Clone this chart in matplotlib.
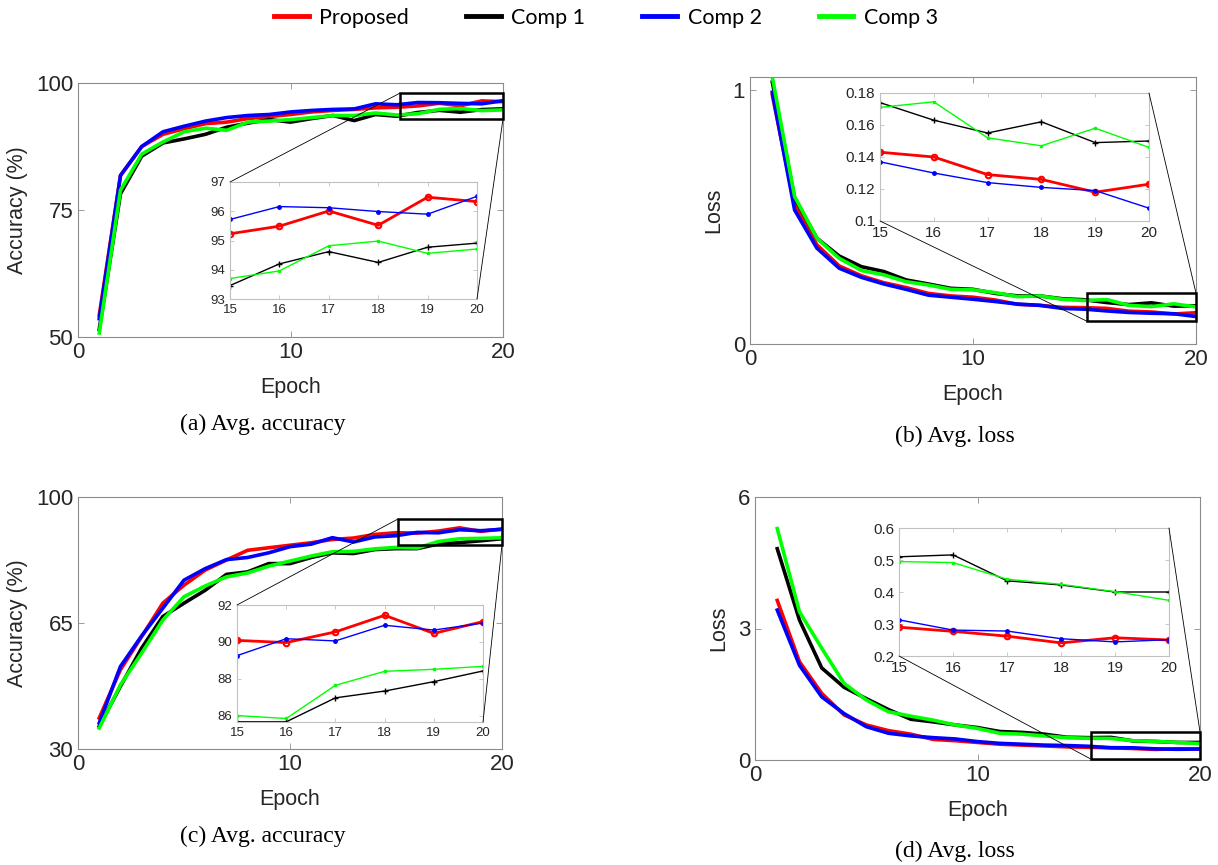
import numpy as np
import matplotlib
matplotlib.use("Agg")
import matplotlib.pyplot as plt
from matplotlib.patches import Rectangle, ConnectionPatch

plt.rcParams['font.family'] = ['Liberation Sans', 'DejaVu Sans']

epochs = list(range(1, 21))
names = ["Proposed", "Comp 1", "Comp 2", "Comp 3"]
colors = ["#ff0000", "#000000", "#0000ff", "#00ff00"]

# (a) avg accuracy
acc_a_prop = [54.3, 81.8, 87.5, 89.9, 91.0, 92.0, 92.3, 93.0, 93.4, 93.8,
              94.3, 94.6, 94.8, 95.1, 95.23, 95.49, 96.01, 95.52, 96.48, 96.33]
acc_a_c1 = [51.5, 78.2, 85.6, 88.2, 89.0, 89.9, 91.3, 92.1, 92.8, 92.3,
            93.0, 93.6, 92.6, 93.8, 93.46, 94.20, 94.62, 94.25, 94.77, 94.91]
acc_a_c2 = [53.6, 81.8, 87.5, 90.4, 91.5, 92.5, 93.2, 93.6, 93.8, 94.3,
            94.6, 94.8, 94.9, 95.9, 95.72, 96.16, 96.12, 95.99, 95.90, 96.51]
acc_a_c3 = [50.8, 78.9, 86.0, 88.4, 90.4, 91.1, 90.7, 92.3, 92.5, 92.8,
            93.2, 93.6, 93.6, 94.1, 93.70, 93.96, 94.82, 94.98, 94.56, 94.71]

# (b) avg loss
loss_b_prop = [0.98, 0.545, 0.39, 0.307, 0.268, 0.241, 0.222, 0.199, 0.189, 0.184,
               0.173, 0.156, 0.152, 0.144, 0.143, 0.140, 0.129, 0.126, 0.118, 0.123]
loss_b_c1 = [1.03, 0.573, 0.416, 0.346, 0.304, 0.285, 0.252, 0.236, 0.219, 0.215,
             0.199, 0.189, 0.189, 0.178, 0.174, 0.163, 0.155, 0.162, 0.149, 0.150]
loss_b_c2 = [0.99, 0.527, 0.377, 0.298, 0.262, 0.236, 0.215, 0.192, 0.184, 0.176,
             0.167, 0.157, 0.152, 0.140, 0.137, 0.130, 0.124, 0.121, 0.119, 0.108]
loss_b_c3 = [1.05, 0.58, 0.416, 0.337, 0.289, 0.272, 0.245, 0.232, 0.215, 0.213,
             0.202, 0.186, 0.189, 0.176, 0.171, 0.1745, 0.152, 0.147, 0.158, 0.146]

# (c) avg accuracy
acc_c_prop = [38.6, 52.0, 61.2, 70.5, 75.5, 79.7, 82.5, 85.2, 85.9, 86.6,
              87.3, 88.2, 88.6, 89.6, 90.08, 89.96, 90.54, 91.44, 90.46, 91.10]
acc_c_c1 = [36.3, 47.4, 58.0, 66.8, 70.5, 74.1, 78.5, 79.2, 81.5, 81.5,
            83.2, 84.5, 84.3, 85.4, 85.66, 85.66, 86.96, 87.33, 87.84, 88.42]
acc_c_c2 = [37.2, 52.9, 61.4, 69.1, 76.9, 80.1, 82.6, 83.2, 84.5, 86.2,
            86.9, 88.7, 87.5, 88.9, 89.25, 90.17, 90.05, 90.90, 90.64, 91.02]
acc_c_c3 = [35.8, 47.8, 56.6, 65.8, 72.3, 75.3, 77.8, 78.9, 80.8, 82.2,
            83.6, 84.8, 84.9, 85.6, 86.00, 85.84, 87.64, 88.40, 88.51, 88.67]

# (d) avg loss
loss_d_prop = [3.64, 2.24, 1.52, 1.03, 0.80, 0.67, 0.59, 0.47, 0.44, 0.40,
               0.36, 0.34, 0.32, 0.30, 0.290, 0.277, 0.262, 0.241, 0.257, 0.250]
loss_d_c1 = [4.82, 3.19, 2.10, 1.66, 1.40, 1.15, 0.93, 0.87, 0.80, 0.74,
             0.65, 0.63, 0.59, 0.52, 0.510, 0.516, 0.435, 0.422, 0.400, 0.400]
loss_d_c2 = [3.42, 2.16, 1.44, 1.06, 0.76, 0.61, 0.55, 0.51, 0.48, 0.42,
             0.38, 0.36, 0.34, 0.33, 0.313, 0.281, 0.278, 0.254, 0.244, 0.251]
loss_d_c3 = [5.28, 3.38, 2.55, 1.75, 1.37, 1.10, 1.00, 0.91, 0.80, 0.72,
             0.61, 0.59, 0.55, 0.51, 0.495, 0.492, 0.440, 0.424, 0.401, 0.374]

fig = plt.figure(figsize=(12.18, 8.65), dpi=100)

tick_col = '#262626'
# inset marker styles, same order as names
markers = [dict(marker='o', ms=4, lw=2.0, mew=1.5, mfc='none'),
           dict(marker='+', ms=4, lw=1.0, mew=1.0),
           dict(marker='.', ms=5, lw=1.0),
           dict(marker='s', ms=2, lw=1.0)]


def style_axes(ax, spine_col, size):
    for s in ax.spines.values():
        s.set_color(spine_col)
        s.set_linewidth(0.8)
    ax.tick_params(direction='in', top=True, right=True, colors=spine_col,
                   labelcolor=tick_col, labelsize=size, length=4, width=0.6)


def make_panel(rect, series, ylim, yticks, ylabel, inset_rect, in_ylim, in_yticks,
               in_ylabels, in_size, zoom_box, links, caption, cap_pos):
    ax = fig.add_axes(rect)
    for data, c in zip(series, colors):
        ax.plot(epochs, data, color=c, lw=2.6)
    ax.set_xlim(0, 20)
    ax.set_ylim(*ylim)
    ax.set_xticks([0, 10, 20])
    ax.set_yticks(yticks)
    style_axes(ax, '#8c8c8c', 16)
    ax.set_xlabel('Epoch', fontsize=15.5, color=tick_col, labelpad=10)
    ax.set_ylabel(ylabel, fontsize=15.5, color=tick_col, labelpad=6)

    # zoom box on the main axes
    x0, y0, x1, y1 = zoom_box
    ax.add_patch(Rectangle((x0, y0), x1 - x0, y1 - y0, fill=False,
                           ec='black', lw=1.8, zorder=5, clip_on=False))

    ins = fig.add_axes(inset_rect)
    for data, c, mk in zip(series, colors, markers):
        ins.plot(epochs[14:], data[14:], color=c, **mk)
    ins.set_xlim(15, 20)
    ins.set_ylim(*in_ylim)
    ins.set_xticks(range(15, 21))
    ins.set_yticks(in_yticks)
    ins.set_yticklabels(in_ylabels)
    style_axes(ins, '#c0c0c0', in_size)
    ins.tick_params(length=3)

    for main_pt, ins_pt in links:
        con = ConnectionPatch(xyA=main_pt, coordsA=ax.transData,
                              xyB=ins_pt, coordsB=ins.transAxes,
                              color='black', lw=0.6)
        fig.add_artist(con)

    fig.text(cap_pos[0] / 1218, 1 - cap_pos[1] / 865, caption,
             family='Liberation Serif', fontsize=17, ha='center', va='center')
    return ax


make_panel([78 / 1218, 1 - 337 / 865, 425 / 1218, 254 / 865],
           [acc_a_prop, acc_a_c1, acc_a_c2, acc_a_c3], (50, 100), [50, 75, 100],
           'Accuracy (%)',
           [230 / 1218, 1 - 299 / 865, 247 / 1218, 117 / 865], (93, 97),
           [93, 94, 95, 96, 97], ['93', '94', '95', '96', '97'], 9.5,
           (15.15, 92.9, 20, 98.0),
           [((15.15, 98.0), (0, 1)), ((20, 92.9), (1, 0))],
           '(a) Avg. accuracy', (263, 424))

make_panel([750 / 1218, 1 - 344 / 865, 446 / 1218, 267 / 865],
           [loss_b_prop, loss_b_c1, loss_b_c2, loss_b_c3], (0, 1.05), [0, 1],
           'Loss',
           [880 / 1218, 1 - 221 / 865, 269 / 1218, 128 / 865], (0.1, 0.18),
           [0.1, 0.12, 0.14, 0.16, 0.18], ['0.1', '0.12', '0.14', '0.16', '0.18'], 11,
           (15.1, 0.09, 20, 0.2),
           [((15.1, 0.09), (0, 0)), ((20, 0.2), (1, 1))],
           '(b) Avg. loss', (955, 436))

make_panel([78 / 1218, 1 - 749 / 865, 424 / 1218, 252 / 865],
           [acc_c_prop, acc_c_c1, acc_c_c2, acc_c_c3], (30, 100), [30, 65, 100],
           'Accuracy (%)',
           [237 / 1218, 1 - 722 / 865, 246 / 1218, 117 / 865], (85.65, 92),
           [86, 88, 90, 92], ['86', '88', '90', '92'], 9.5,
           (15.1, 86.7, 20, 93.9),
           [((15.1, 93.9), (0, 1)), ((20, 86.7), (1, 0))],
           '(c) Avg. accuracy', (263, 836))

make_panel([755 / 1218, 1 - 760 / 865, 445 / 1218, 263 / 865],
           [loss_d_prop, loss_d_c1, loss_d_c2, loss_d_c3], (0, 6), [0, 3, 6],
           'Loss',
           [899 / 1218, 1 - 656 / 865, 270 / 1218, 128 / 865], (0.2, 0.6),
           [0.2, 0.3, 0.4, 0.5, 0.6], ['0.2', '0.3', '0.4', '0.5', '0.6'], 11,
           (15.1, 0.02, 20, 0.64),
           [((15.1, 0.02), (0, 0)), ((20, 0.64), (1, 1))],
           '(d) Avg. loss', (955, 851))

# shared legend on top
handles = [plt.Line2D([], [], color=c, lw=3.5) for c in colors]
fig.legend(handles, names, loc='center', bbox_to_anchor=(606 / 1218, 1 - 18 / 865),
           ncol=4, frameon=False, prop={'family': 'Lato', 'size': 15.5},
           handlelength=1.6, handletextpad=0.5, columnspacing=2.65)

fig.savefig('out.png', dpi=100)
